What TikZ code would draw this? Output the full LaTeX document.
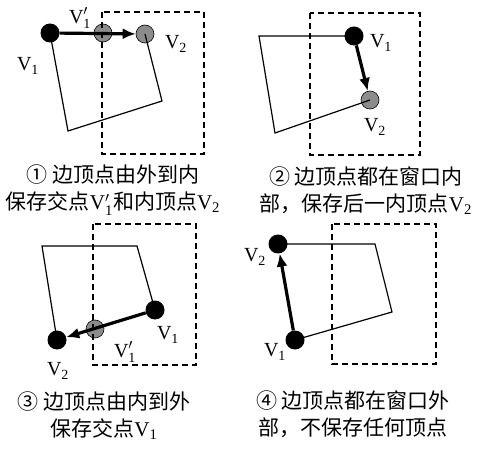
\documentclass[tikz,border=0pt]{standalone}
\usepackage{amsmath}
\usepackage{fontspec}
\setmainfont{Liberation Serif}
\newfontfamily\cjkfont{Noto Sans CJK SC}
\usetikzlibrary{arrows.meta}
\definecolor{ptgray}{HTML}{8C8C8C}
\newcommand{\vtx}[1]{{\rmfamily V$_{\text{#1}}$}}
\newcommand{\vtxp}[1]{{\rmfamily V$_{\text{#1}}^{\prime}$}}

\begin{document}
\begin{tikzpicture}[
  x=1pt, y=-1pt,
  >={Latex[length=13pt, width=11pt]},
  inpt/.style={circle, draw=black, line width=0.6pt, fill=ptgray,
    minimum size=18pt, inner sep=0pt},
  outpt/.style={circle, fill=black, minimum size=19pt, inner sep=0pt},
  window/.style={dash pattern=on 6pt off 4pt, line width=1.8pt},
  poly/.style={line width=1.2pt},
  edge/.style={->, line width=3.2pt},
  lbl/.style={font=\fontsize{20}{20}\selectfont, inner sep=0pt},
  caption/.style={font=\cjkfont\fontsize{21}{27}\selectfont,
    align=center, inner sep=0pt},
]
\useasboundingbox (0,0) rectangle (484,454);

% =============================================
% (1) outside -> inside
% =============================================
\node[inpt] (a1p) at (103,33) {};
\node[inpt] (a2) at (145,34) {};
\draw[window] (102,12) rectangle (204,154);
\node[outpt] (a1) at (50,33) {};
\draw[poly] (a1.center) -- (68,131) -- (162,101) -- (a2.center);
\draw[edge] (a1) -- (a2);

\node[lbl] (la1) at (28,66) {\vtx{1}};
\node[lbl] (la1p) at (80,18) {\vtxp{1}};
\node[lbl] (la2) at (176,44) {\vtx{2}};

\node[caption] (cap1) at (113,190)
  {① 边顶点由外到内\\保存交点\vtxp{1}和内顶点\vtx{2}};

% =============================================
% (2) inside -> inside
% =============================================
\node[inpt] (b2) at (370,100) {};
\draw[window] (310,13) rectangle (420,155);
\node[outpt] (b1) at (354,36) {};
\draw[poly] (b1.center) -- (259,36) -- (275,133) -- (b2.center);
\draw[edge] (b1) -- (b2);

\node[lbl] (lb1) at (381,43) {\vtx{1}};
\node[lbl] (lb2) at (375,127) {\vtx{2}};

\node[caption] (cap2) at (366,191)
  {② 边顶点都在窗口内\\部，保存后一内顶点\vtx{2}};

% =============================================
% (3) inside -> outside
% =============================================
\node[inpt] (c1p) at (95,329) {};
\draw[window] (93,224) rectangle (196,365);
\node[outpt] (c1) at (155,310) {};
\node[outpt] (c2) at (57,340) {};
\draw[poly] (c1.center) -- (137,246) -- (42,246) -- (c2.center);
\draw[edge] (c1) -- (c2);

\node[lbl] (lc1) at (168,335) {\vtx{1}};
\node[lbl] (lc1p) at (125,352) {\vtxp{1}};
\node[lbl] (lc2) at (58,371) {\vtx{2}};

\node[caption] (cap3) at (104,416)
  {③ 边顶点由内到外\\保存交点\vtx{1}};

% =============================================
% (4) outside -> outside
% =============================================
\draw[window] (332,224) rectangle (436,364);
\node[outpt] (d2) at (278,244) {};
\node[outpt] (d1) at (295,340) {};
\draw[poly] (d2.center) -- (375,244) -- (392,312) -- (d1.center);
\draw[edge] (d1) -- (d2);

\node[lbl] (ld2) at (255,257) {\vtx{2}};
\node[lbl] (ld1) at (275,352) {\vtx{1}};

\node[caption] (cap4) at (353,414)
  {④ 边顶点都在窗口外\\部，不保存任何顶点};

\end{tikzpicture}
\end{document}
